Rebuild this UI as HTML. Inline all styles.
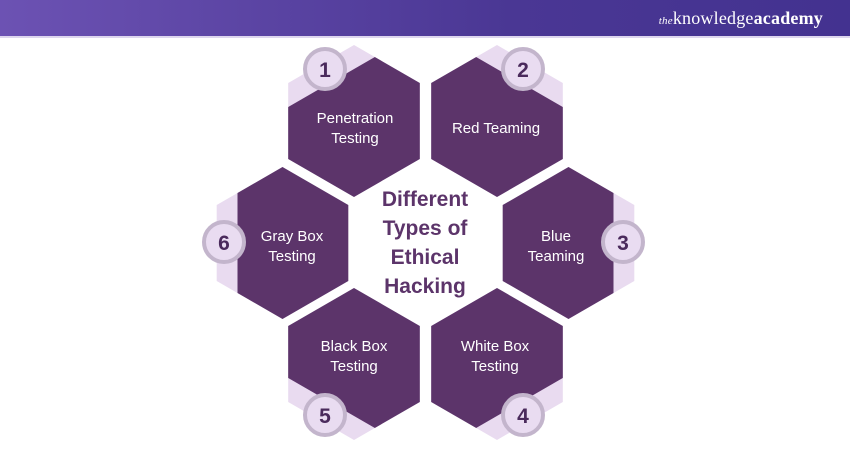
<!DOCTYPE html>
<html><head><meta charset="utf-8"><style>
body{margin:0;width:850px;height:450px;background:#fff;overflow:hidden;font-family:"Liberation Sans",sans-serif}
.hdr{position:absolute;left:0;top:0;width:850px;height:36px;background:linear-gradient(90deg,#6c52b3,#4a3794 60%,#433290);border-bottom:2px solid #ddd6ee}
.logo{position:absolute;right:27px;top:8px;color:#fff;font-family:"Liberation Serif",serif;font-size:18px;letter-spacing:0.2px}
</style></head><body>
<div class="hdr"><div class="logo"><i style="font-size:11px">the</i>knowledge<b>academy</b></div></div>
<svg width="850" height="450" style="position:absolute;left:0;top:0">
<defs>
<polygon id="hx" points="0,-76 65.8,-38 65.8,38 0,76 -65.8,38 -65.8,-38"/>
<clipPath id="cp"><rect x="-45" y="-100" width="200" height="200"/></clipPath>
</defs>
<g fill="#e9dbf0">
<use href="#hx" transform="translate(354,121) rotate(60)"/>
<use href="#hx" transform="translate(497,121) rotate(120)"/>
<use href="#hx" transform="translate(568.5,243) rotate(180)"/>
<use href="#hx" transform="translate(497,364) rotate(240)"/>
<use href="#hx" transform="translate(354,364) rotate(300)"/>
<use href="#hx" transform="translate(282.5,243)"/>
</g>
<g fill="#5c346a">
<g transform="translate(354,121) rotate(60)"><use href="#hx" clip-path="url(#cp)"/></g>
<g transform="translate(497,121) rotate(120)"><use href="#hx" clip-path="url(#cp)"/></g>
<g transform="translate(568.5,243) rotate(180)"><use href="#hx" clip-path="url(#cp)"/></g>
<g transform="translate(497,364) rotate(240)"><use href="#hx" clip-path="url(#cp)"/></g>
<g transform="translate(354,364) rotate(300)"><use href="#hx" clip-path="url(#cp)"/></g>
<g transform="translate(282.5,243)"><use href="#hx" clip-path="url(#cp)"/></g>
</g>
<g fill="#e9dcf1" stroke="#c3b5cc" stroke-width="4">
<circle cx="325" cy="69" r="20"/><circle cx="523" cy="69" r="20"/><circle cx="623" cy="242" r="20"/>
<circle cx="523" cy="415" r="20"/><circle cx="325" cy="415" r="20"/><circle cx="224" cy="242" r="20"/>
</g>
<g fill="#4a2a5c" font-weight="bold" font-size="21" text-anchor="middle">
<text x="325" y="77">1</text><text x="523" y="77">2</text><text x="623" y="250">3</text>
<text x="523" y="423">4</text><text x="325" y="423">5</text><text x="224" y="250">6</text>
</g>
<g fill="#fff" font-size="15" text-anchor="middle">
<text x="355" y="123">Penetration</text><text x="355" y="143">Testing</text>
<text x="496" y="133">Red Teaming</text>
<text x="556" y="241">Blue</text><text x="556" y="261">Teaming</text>
<text x="495" y="351">White Box</text><text x="495" y="371">Testing</text>
<text x="354" y="351">Black Box</text><text x="354" y="371">Testing</text>
<text x="292" y="241">Gray Box</text><text x="292" y="261">Testing</text>
</g>
<g fill="#5c346a" font-size="21" font-weight="bold" text-anchor="middle">
<text x="425" y="206">Different</text><text x="425" y="235">Types of</text>
<text x="425" y="264">Ethical</text><text x="425" y="293">Hacking</text>
</g>
</svg>
</body></html>
